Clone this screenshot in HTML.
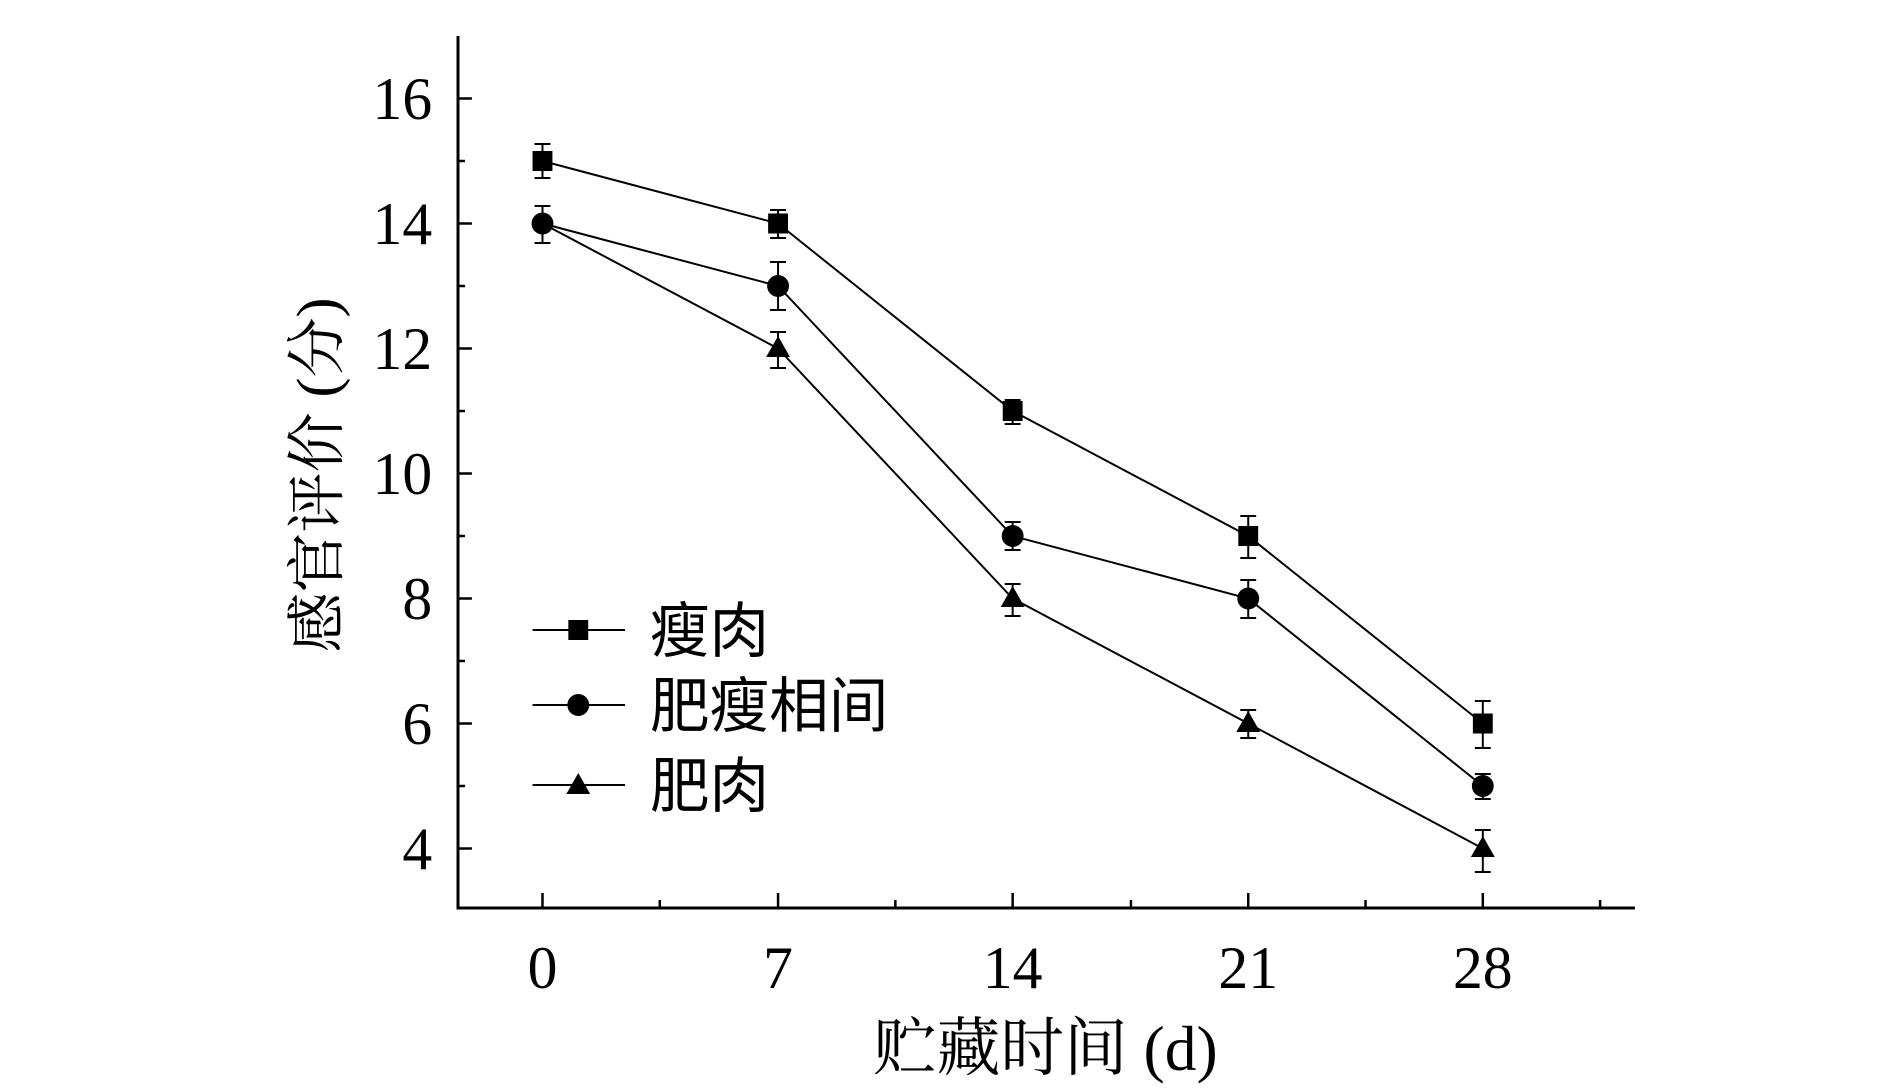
<!DOCTYPE html>
<html><head><meta charset="utf-8"><style>body{margin:0;background:#fff}</style></head><body>
<svg width="1890" height="1087" xmlns="http://www.w3.org/2000/svg" font-family="Liberation Serif, Noto Serif CJK SC, serif">
<g transform="translate(458,0) scale(0.994,1) translate(-458,0)">
<g stroke="#000" stroke-width="3" fill="none">
<path d="M458,36 V908 H1642"/>
</g>
<g stroke="#000" stroke-width="2.5">
<line x1="458" y1="98.5" x2="472" y2="98.5"/><line x1="458" y1="223.5" x2="472" y2="223.5"/><line x1="458" y1="348.5" x2="472" y2="348.5"/><line x1="458" y1="473.5" x2="472" y2="473.5"/><line x1="458" y1="598.5" x2="472" y2="598.5"/><line x1="458" y1="723.5" x2="472" y2="723.5"/><line x1="458" y1="848.5" x2="472" y2="848.5"/>
<line x1="458" y1="161" x2="465" y2="161"/><line x1="458" y1="286" x2="465" y2="286"/><line x1="458" y1="411" x2="465" y2="411"/><line x1="458" y1="536" x2="465" y2="536"/><line x1="458" y1="661" x2="465" y2="661"/><line x1="458" y1="786" x2="465" y2="786"/>
<line x1="543" y1="908" x2="543" y2="893"/><line x1="780" y1="908" x2="780" y2="893"/><line x1="1016" y1="908" x2="1016" y2="893"/><line x1="1253" y1="908" x2="1253" y2="893"/><line x1="1489" y1="908" x2="1489" y2="893"/>
<line x1="661" y1="908" x2="661" y2="900"/><line x1="898" y1="908" x2="898" y2="900"/><line x1="1135" y1="908" x2="1135" y2="900"/><line x1="1371" y1="908" x2="1371" y2="900"/><line x1="1607" y1="908" x2="1607" y2="900"/>
</g>
<g font-size="60" text-anchor="end">
<text x="432" y="119">16</text><text x="432" y="244">14</text><text x="432" y="369">12</text><text x="432" y="494">10</text><text x="432" y="619">8</text><text x="432" y="744">6</text><text x="432" y="869">4</text>
</g>
<g font-size="60" text-anchor="middle">
<text x="543" y="988">0</text><text x="780" y="988">7</text><text x="1016" y="988">14</text><text x="1253" y="988">21</text><text x="1489" y="988">28</text>
<text x="1049" y="1070" font-size="64">贮藏时间 (d)</text>
<text transform="translate(337,475) rotate(-90)" font-size="60">感官评价 (分)</text>
</g>
<g stroke="#000" stroke-width="2" fill="none">
<polyline points="543,161 780,223.5 1016,411 1253,536 1489,723.5"/>
<polyline points="543,223.5 780,286 1016,536 1253,598.5 1489,786"/>
<polyline points="543,223.5 780,348.5 1016,598.5 1253,723.5 1489,848.5"/>
<path d="M543,144V178M535,144h16M535,178h16 M780,210V238M772,210h16M772,238h16 M1016,400V424M1008,400h16M1008,424h16 M1253,516V558M1245,516h16M1245,558h16 M1489,701V748M1481,701h16M1481,748h16"/>
<path d="M543,206V243M535,206h16M535,243h16 M780,262V310M772,262h16M772,310h16 M1016,522V550M1008,522h16M1008,550h16 M1253,580V618M1245,580h16M1245,618h16 M1489,774V799M1481,774h16M1481,799h16"/>
<path d="M780,332V368M772,332h16M772,368h16 M1016,584V616M1008,584h16M1008,616h16 M1253,710V738M1245,710h16M1245,738h16 M1489,830V872M1481,830h16M1481,872h16"/>
<line x1="533" y1="630" x2="626" y2="630"/><line x1="533" y1="705" x2="626" y2="705"/><line x1="533" y1="785" x2="626" y2="785"/>
</g>
<g fill="#000">
<rect x="533" y="151" width="20" height="20"/><rect x="770" y="213.5" width="20" height="20"/><rect x="1006" y="401" width="20" height="20"/><rect x="1243" y="526" width="20" height="20"/><rect x="1479" y="713.5" width="20" height="20"/>
<circle cx="543" cy="223.5" r="11"/><circle cx="780" cy="286" r="11"/><circle cx="1016" cy="536" r="11"/><circle cx="1253" cy="598.5" r="11"/><circle cx="1489" cy="786" r="11"/>
<path d="M780,336l12,21h-24z M1016,586l12,21h-24z M1253,711l12,21h-24z M1489,836l12,21h-24z"/>
<rect x="569" y="620" width="20" height="20"/><circle cx="579" cy="705" r="11"/><path d="M579,773l12,21h-24z"/>
</g>
<g font-size="60" font-family="Noto Sans CJK SC, sans-serif">
<text x="651" y="652">瘦肉</text><text x="651" y="727">肥瘦相间</text><text x="651" y="807">肥肉</text>
</g>
</g>
</svg>
</body></html>
